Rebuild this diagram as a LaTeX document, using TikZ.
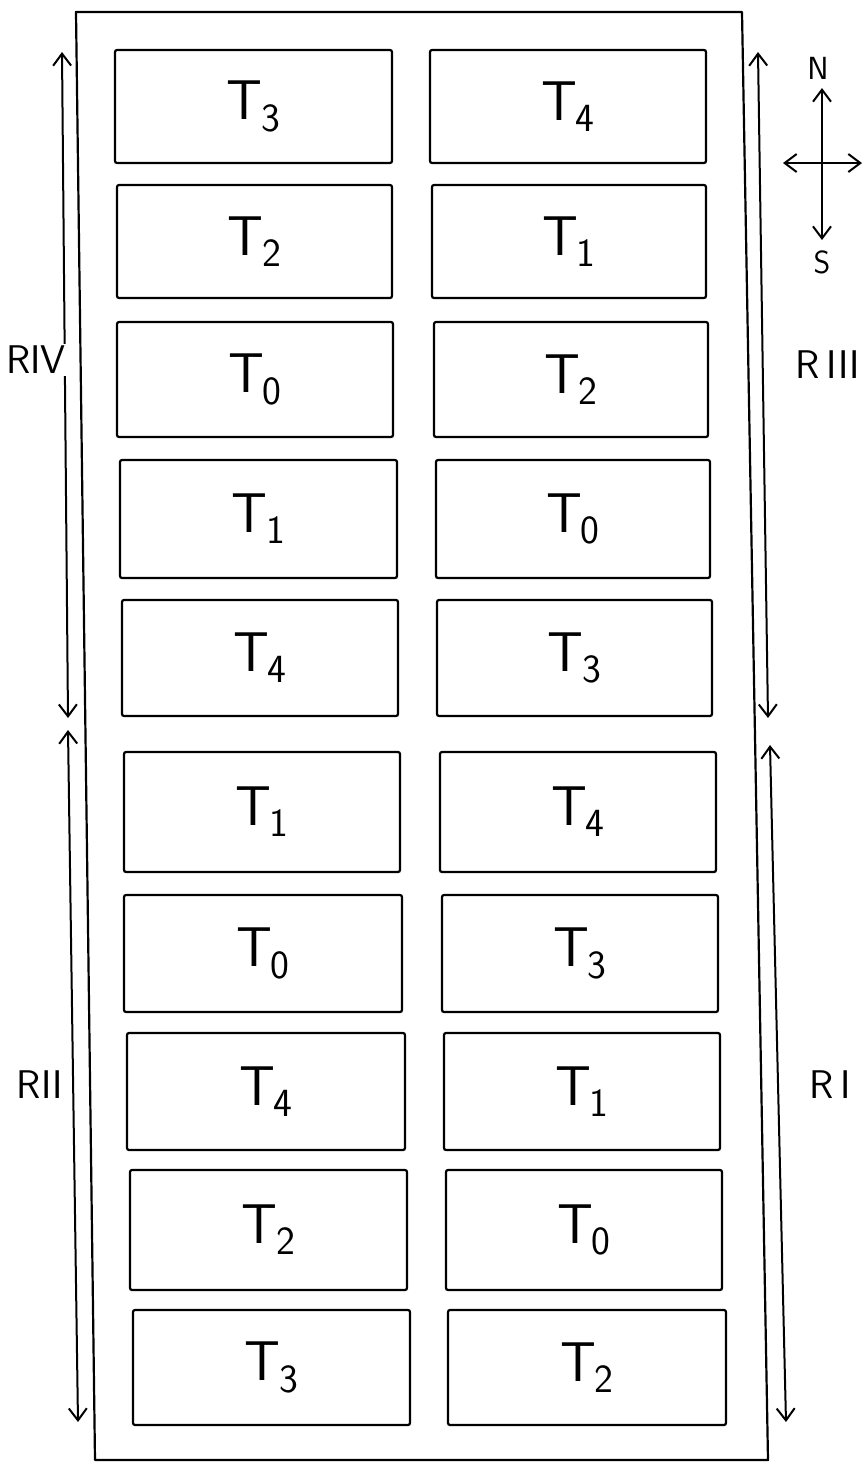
\documentclass[tikz,border=0pt]{standalone}
\usetikzlibrary{fit,arrows.meta}
\newcommand{\tlab}[1]{{\fontsize{28}{30}\selectfont\sffamily T\kern-0.02em\raisebox{-0.2em}{\fontsize{20}{20}\selectfont #1}}}
\tikzset{
  plotbox/.style={draw, line width=1.1pt, inner sep=0pt, rounded corners=1pt},
  border/.style={line width=1.1pt, line join=round},
  rep/.style={line width=1pt, {Straight Barb[length=6pt,width=9pt]}-{Straight Barb[length=6pt,width=9pt]}},
  replab/.style={font=\fontsize{20}{22}\selectfont\sffamily, inner sep=1pt},
  dir/.style={font=\fontsize{16}{18}\selectfont\sffamily, inner sep=1pt}
}
\newcommand{\plotrect}[6]{\node[plotbox, fit={(#2,#3) (#4,#5)}, label={[yshift=0pt]center:\tlab{#6}}] (#1) {};}
\begin{document}
\begin{tikzpicture}[x=0.5pt,y=-0.5pt]
\useasboundingbox (0,0) rectangle (866,1464);
% outer field boundary
\draw[border] (76,12) -- (742,12) -- (768,1460) -- (95,1460) -- cycle;
% plots: left column
\plotrect{L1}{115}{50}{392}{163}{3}
\plotrect{L2}{117}{185}{392}{298}{2}
\plotrect{L3}{117}{322}{393}{437}{0}
\plotrect{L4}{120}{460}{397}{578}{1}
\plotrect{L5}{122}{600}{398}{716}{4}
\plotrect{L6}{124}{752}{400}{872}{1}
\plotrect{L7}{124}{895}{402}{1012}{0}
\plotrect{L8}{127}{1033}{405}{1150}{4}
\plotrect{L9}{130}{1170}{407}{1290}{2}
\plotrect{L10}{133}{1310}{410}{1425}{3}
% plots: right column
\plotrect{R1}{430}{50}{706}{163}{4}
\plotrect{R2}{432}{185}{706}{298}{1}
\plotrect{R3}{434}{322}{708}{437}{2}
\plotrect{R4}{436}{460}{710}{578}{0}
\plotrect{R5}{437}{600}{712}{716}{3}
\plotrect{R6}{440}{752}{716}{872}{4}
\plotrect{R7}{442}{895}{718}{1012}{3}
\plotrect{R8}{444}{1033}{720}{1150}{1}
\plotrect{R9}{446}{1170}{722}{1290}{0}
\plotrect{R10}{448}{1310}{726}{1425}{2}
% replication extents
\coordinate (ivT) at (62,52);  \coordinate (ivB) at (68,718);
\coordinate (iiT) at (68,730); \coordinate (iiB) at (78,1422);
\coordinate (iiiT) at (758,52); \coordinate (iiiB) at (768,718);
\coordinate (iT) at (770,745); \coordinate (iB) at (786,1422);
\draw[rep] (ivT) -- (ivB);
\draw[rep] (iiT) -- (iiB);
\draw[rep] (iiiT) -- (iiiB);
\draw[rep] (iT) -- (iB);
\node[replab, fill=white] (RIV) at (36,360) {RIV};
\node[replab, fill=white] (RII) at (40,1085) {RII};
\node[replab] (RIII) at (828,365) {R\,III};
\node[replab] (RI) at (830,1085) {R\,I};
% compass
\node[dir] (N) at (818,68) {N};
\node[dir] (S) at (822,262) {S};
\coordinate (cN) at (822,88); \coordinate (cS) at (822,240);
\coordinate (cW) at (783,163); \coordinate (cE) at (862,163);
\draw[rep] (cN) -- (cS);
\draw[rep] (cW) -- (cE);
\end{tikzpicture}
\end{document}
